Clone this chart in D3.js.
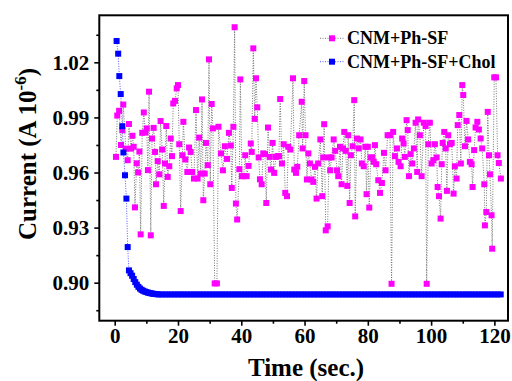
<!DOCTYPE html>
<html><head><meta charset="utf-8">
<script src="https://cdn.jsdelivr.net/npm/d3@7"></script>
<style>
body{margin:0;background:#fff;}
svg text{font-family:"Liberation Serif","Times New Roman",serif;font-weight:bold;fill:#000;}
</style></head>
<body><svg id="chart" width="512" height="381"></svg>
<script>
// ---- data ----
const seriesNames = ["CNM+Ph-SF", "CNM+Ph-SF+Chol"];
const xTicks = [0, 20, 40, 60, 80, 100, 120];
const xMinorTicks = [10, 30, 50, 70, 90, 110];
const yTicks = [0.90, 0.93, 0.96, 0.99, 1.02];
const yMinorTicks = [0.885, 0.915, 0.945, 0.975, 1.005, 1.035];

const phTime = [0.4,0.8,1.4,2.0,2.4,2.7,3.5,4.1,4.5,5.15,5.6,6.0,6.4,6.95,7.4,7.8,8.2,8.7,9.2,9.7,10.1,10.5,10.85,11.4,11.8,12.3,12.75,13.05,13.6,14.1,14.5,15.0,15.5,15.9,16.3,16.75,17.25,17.7,18.1,18.5,19.05,19.6,20.0,20.4,20.85,21.4,21.7,22.3,22.95,23.5,24.0,24.5,25.05,25.7,26.2,26.7,27.2,27.6,28.0,28.45,28.85,29.4,29.8,30.2,30.65,31.05,31.6,32.3,32.8,33.6,34.2,34.8,35.5,36.1,36.7,37.0,37.5,37.9,38.3,38.7,39.4,39.7,40.2,40.75,41.25,41.7,42.3,43.0,43.3,43.8,44.25,44.65,45.05,45.5,45.9,46.45,46.95,47.5,47.9,48.45,49.0,49.4,49.9,50.4,50.95,51.5,51.9,52.3,52.85,53.4,53.9,54.45,54.85,55.5,56.35,56.75,57.3,57.7,58.3,59.1,59.4,59.9,60.3,60.75,61.2,61.7,62.2,62.75,63.3,63.8,64.3,65.0,65.6,65.9,66.2,66.7,67.3,67.7,68.1,68.55,69.2,69.7,70.25,70.65,71.2,71.7,72.15,72.55,73.0,73.5,73.8,74.25,74.65,75.2,75.7,76.0,76.55,77.1,77.7,78.1,78.7,79.2,79.6,80.0,80.45,80.9,81.4,81.85,82.25,82.65,83.3,83.85,84.45,85.1,85.6,86.25,87.0,87.5,88.0,88.55,89.2,89.7,90.35,90.85,91.3,91.7,92.25,92.6,93.0,93.5,94.05,94.55,95.1,95.6,95.9,96.45,97.0,97.7,98.25,98.6,99.1,99.6,100.15,100.7,101.2,101.75,102.05,102.5,103.0,103.35,103.65,104.15,104.6,105.0,105.4,105.95,106.5,107.1,107.5,108.05,108.4,108.9,109.4,109.85,110.15,110.7,111.2,111.7,112.25,112.8,113.1,113.6,114.05,114.6,115.1,115.65,116.15,116.8,117.0,117.45,117.9,118.3,118.6,119.1,119.3,119.95,120.5,121.0,121.4,122.05];
const phCurrent = [0.9685,0.991,0.9936,0.975,0.983,0.997,0.973,0.9667,0.9864,0.973,0.98,0.974,0.941,0.965,0.960,0.9714,0.9263,0.9816,0.9927,0.9818,0.984,0.9613,1.004,0.9258,0.9785,0.9843,0.9712,0.9536,0.9662,0.959,0.988,0.9725,0.9418,0.9649,0.9853,0.9576,0.9634,0.9785,0.9689,0.9976,0.999,1.0058,1.0076,0.9754,0.939,0.9694,0.9876,0.9671,0.9603,0.9736,0.9712,0.9603,0.9567,0.994,0.9567,0.979,0.9594,0.9998,0.9449,0.9594,0.9761,0.964,1.0216,0.9536,0.9973,0.984,0.8996,0.8996,0.9849,0.9704,0.9612,0.9743,0.9674,0.9816,0.9747,0.9516,0.9849,1.0391,0.9431,0.9344,0.9618,1.0107,0.958,0.958,0.9694,0.958,0.9636,0.9758,0.9712,1.0276,0.9892,1.0113,0.9955,0.9682,0.9563,0.9536,0.9704,0.970,0.9434,0.9845,0.9685,0.9616,0.9761,0.9598,0.9685,0.9689,0.9689,1.000,0.9649,0.9754,0.9489,0.9471,0.974,0.9725,1.0113,0.9616,0.9598,0.9631,0.9803,0.9985,0.9731,1.0098,0.9803,0.9562,0.9704,0.9649,0.9562,0.9549,0.9631,0.9458,0.9649,0.978,0.9471,0.9682,0.9863,0.9285,0.9307,0.9682,0.9612,0.9682,0.978,0.9718,0.9612,0.958,0.974,0.9536,0.9731,0.9821,0.9718,0.9527,0.9803,0.9434,0.9694,0.9743,0.9994,0.9361,0.9785,0.9731,0.978,0.9649,0.9634,0.974,0.9482,0.974,0.9409,0.9682,0.9682,0.9658,0.9749,0.9645,0.9558,0.9489,0.9543,0.9707,0.9612,0.9803,0.9803,0.8994,0.9821,0.9689,0.9731,0.9658,0.9634,0.9785,0.9758,0.9685,0.9885,0.9831,0.958,0.9700,0.9649,0.9731,0.9871,0.9603,0.9889,0.9803,0.958,0.9871,0.9853,0.8994,0.9754,0.9871,0.9649,0.9667,0.9754,0.9682,0.9521,0.9471,0.9349,0.9645,0.9761,0.9821,0.9731,0.950,0.9803,0.9754,0.9761,0.9485,0.9634,0.9567,0.9858,0.9913,0.9649,1.0076,1.0022,0.9743,0.9881,0.978,0.9658,0.9645,0.9521,0.9722,0.9845,0.9876,0.9834,0.9785,0.9731,0.9536,0.9312,0.9385,0.993,0.9694,0.959,0.9367,0.9185,1.0118,1.0118,0.9694,0.9652,0.9567];

const cholTime = [0.6,1.1,1.45,1.9,2.4,2.75,3.25,3.7,4.1,4.5,5.0,5.5,6.0,6.5,7.0,7.5,8.0,8.5,9.0,9.5,10.0,10.5,11.0,11.5,12.0,12.5,13.0,13.5,
14,15,16,17,18,19,20,21,22,23,
24,25,26,27,28,29,30,31,32,33,
34,35,36,37,38,39,40,41,42,43,
44,45,46,47,48,49,50,51,52,53,
54,55,56,57,58,59,60,61,62,63,
64,65,66,67,68,69,70,71,72,73,
74,75,76,77,78,79,80,81,82,83,
84,85,86,87,88,89,90,91,92,93,
94,95,96,97,98,99,100,101,102,103,
104,105,106,107,108,109,110,111,112,113,
114,115,116,117,118,119,120,121,122];
const cholCurrent = [1.0316,1.0247,1.0125,1.0027,0.9852,0.9709,0.9585,0.9458,0.9194,0.9067,0.9052,0.9038,0.9020,0.9003,0.8989,0.8977,0.8968,0.8961,0.8956,0.8952,0.8949,0.8946,0.8944,0.8942,0.8940,0.8939,0.8938,0.8937,
0.8936,0.8936,0.8936,0.8936,0.8936,0.8936,0.8936,0.8936,0.8936,0.8936,
0.8936,0.8936,0.8936,0.8936,0.8936,0.8936,0.8936,0.8936,0.8936,0.8936,
0.8936,0.8936,0.8936,0.8936,0.8936,0.8936,0.8936,0.8936,0.8936,0.8936,
0.8936,0.8936,0.8936,0.8936,0.8936,0.8936,0.8936,0.8936,0.8936,0.8936,
0.8936,0.8936,0.8936,0.8936,0.8936,0.8936,0.8936,0.8936,0.8936,0.8936,
0.8936,0.8936,0.8936,0.8936,0.8936,0.8936,0.8936,0.8936,0.8936,0.8936,
0.8936,0.8936,0.8936,0.8936,0.8936,0.8936,0.8936,0.8936,0.8936,0.8936,
0.8936,0.8936,0.8936,0.8936,0.8936,0.8936,0.8936,0.8936,0.8936,0.8936,
0.8936,0.8936,0.8936,0.8936,0.8936,0.8936,0.8936,0.8936,0.8936,0.8936,
0.8936,0.8936,0.8936,0.8936,0.8936,0.8936,0.8936,0.8936,0.8936,0.8936,
0.8936,0.8936,0.8936,0.8936,0.8936,0.8936,0.8936,0.8936,0.8936];

// ---- layout ----
const svg = d3.select("#chart");
const L = 99.3, R = 508, T = 15.3, B = 320.7;
const x = d3.scaleLinear().domain([-4.87, 124.3]).range([L, R]);
const y = d3.scaleLinear().domain([0.8793, 1.0456]).range([B, T]);

svg.append("rect").attr("width",512).attr("height",381).attr("fill","#fff");

const ph = phTime.map((t,i)=>({t, v: phCurrent[i]}));
const ch = cholTime.map((t,i)=>({t, v: cholCurrent[i]}));
const line = d3.line().x(d=>x(d.t)).y(d=>y(d.v));
const S = 6;

// series 1
svg.append("path").datum(ph).attr("d", line).attr("fill","none")
  .attr("stroke","#666").attr("stroke-width",0.9).attr("stroke-dasharray","1,1.5");
svg.append("g").selectAll("rect").data(ph).join("rect")
  .attr("x", d=>x(d.t)-S/2).attr("y", d=>y(d.v)-S/2).attr("width",S).attr("height",S)
  .attr("fill","#ff00ff");

// series 2
svg.append("path").datum(ch).attr("d", line).attr("fill","none")
  .attr("stroke","#4444ff").attr("stroke-width",0.9).attr("stroke-dasharray","1,1.5");
svg.append("g").selectAll("rect").data(ch).join("rect")
  .attr("x", d=>x(d.t)-S/2).attr("y", d=>y(d.v)-S/2).attr("width",S).attr("height",S)
  .attr("fill","#0000ff");

// axes
const xa = svg.append("g").attr("transform",`translate(0,${B})`)
  .call(d3.axisBottom(x).tickValues(xTicks).tickSize(5).tickFormat(d3.format("d")));
svg.append("g").attr("transform",`translate(0,${B})`)
  .call(d3.axisBottom(x).tickValues(xMinorTicks).tickSize(3).tickFormat(""));
xa.selectAll("text").attr("y",7.5).attr("font-size",21);

const ya = svg.append("g").attr("transform",`translate(${L},0)`)
  .call(d3.axisLeft(y).tickValues(yTicks).tickSize(5).tickPadding(5).tickFormat(d3.format(".2f")));
svg.append("g").attr("transform",`translate(${L},0)`)
  .call(d3.axisLeft(y).tickValues(yMinorTicks).tickSize(3).tickFormat(""));
ya.selectAll("text").attr("font-size",21);
svg.selectAll(".domain").remove();
svg.selectAll(".tick line").attr("stroke","#000").attr("stroke-width",1.6);

// frame
svg.append("rect").attr("x",L).attr("y",T).attr("width",R-L).attr("height",B-T)
  .attr("fill","none").attr("stroke","#000").attr("stroke-width",2);

// axis titles
svg.append("text").attr("x",306).attr("y",376).attr("text-anchor","middle")
  .attr("font-size",25).text("Time (sec.)");
const yt = svg.append("text").attr("transform","translate(36,240) rotate(-90)")
  .attr("font-size",25);
yt.append("tspan").text("Current (A 10");
yt.append("tspan").attr("font-size",17).attr("dy",-10).text("-6");
yt.append("tspan").attr("dy",10).text(")");

// legend
const leg = [{name:seriesNames[0], fill:"#ff00ff", stroke:"#666", yy:38.3},
             {name:seriesNames[1], fill:"#0000ff", stroke:"#4444ff", yy:61.7}];
const lg = svg.append("g");
leg.forEach(d=>{
  lg.append("line").attr("x1",320).attr("x2",344).attr("y1",d.yy).attr("y2",d.yy)
    .attr("stroke",d.stroke).attr("stroke-width",0.9).attr("stroke-dasharray","1,1.5");
  lg.append("rect").attr("x",332-S/2).attr("y",d.yy-S/2).attr("width",S).attr("height",S).attr("fill",d.fill);
  lg.append("text").attr("x",347).attr("y",d.yy+6).attr("font-size",18).text(d.name);
});
</script></body></html>
